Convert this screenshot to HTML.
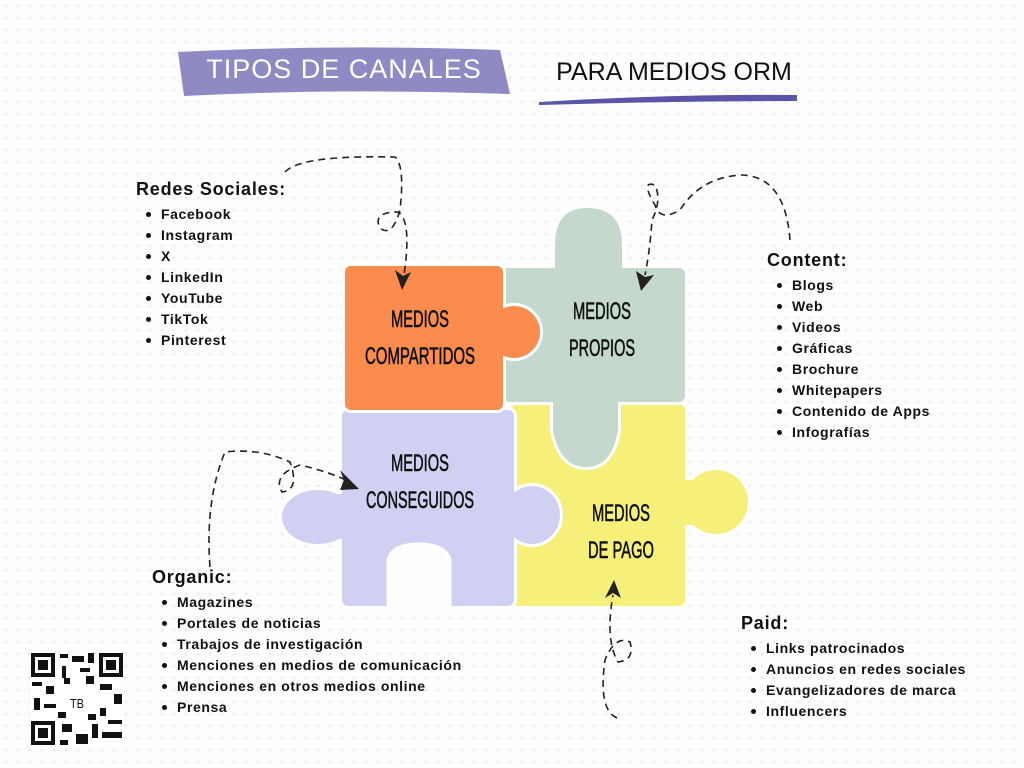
<!DOCTYPE html>
<html><head><meta charset="utf-8"><style>
body{margin:0;width:1024px;height:768px;overflow:hidden;background:#fdfdfd;background-image:radial-gradient(circle,#ececec 1.4px,transparent 1.6px);background-size:12px 12px;font-family:"Liberation Sans",sans-serif;position:relative}
.lst{position:absolute;font-weight:bold;color:#111;font-size:14px;letter-spacing:0.6px}
.lst h3{margin:0 0 4px -25px;font-size:18px;letter-spacing:0.8px}
.lst div{height:21px;line-height:21px;position:relative}
.lst div:before{content:"";position:absolute;left:-15px;top:8px;width:5px;height:5px;border-radius:50%;background:#111}
.p{font-family:"Liberation Sans",sans-serif;font-size:24px;fill:#111;stroke:#111;stroke-width:0.6}
</style></head><body>
<svg width="1024" height="768" style="position:absolute;left:0;top:0">
<defs>
<g id="Y"><rect x="512" y="404" width="173" height="202" rx="6"/><circle cx="716" cy="502" r="32"/><rect x="680" y="480" width="20" height="45"/></g>
<g id="G"><rect x="503" y="268" width="182" height="134" rx="6"/><path d="M555 270 L555 245 Q555 208 587 208 Q622 208 622 245 L622 270 Z"/><path d="M553 398 L553 430 Q560 467 586 467 Q612 467 618 430 L618 398 Z"/></g>
<g id="L"><rect x="342" y="410" width="172" height="196" rx="6"/><ellipse cx="318" cy="517" rx="36" ry="27"/><rect x="330" y="494" width="20" height="45"/><ellipse cx="532" cy="515" rx="28" ry="29"/></g>
<g id="O"><rect x="345" y="266" width="158" height="144" rx="6"/><ellipse cx="514" cy="332" rx="26" ry="26"/><rect x="495" y="312" width="12" height="42"/></g>
</defs>
<path d="M178 52 Q340 44 500 50 L510 94 Q340 88 184 96 Z" fill="#8f89c4"/>
<text x="344" y="78" text-anchor="middle" font-family="Liberation Sans" font-size="27" fill="#fff" letter-spacing="1">TIPOS DE CANALES</text>
<text x="674" y="80" text-anchor="middle" font-family="Liberation Sans" font-size="25" fill="#111">PARA MEDIOS ORM</text>
<path d="M540 103 Q670 95 796 96 L796 100 Q670 100 540 104 Z" fill="#5b55a8" stroke="#5b55a8" stroke-width="2"/>
<use href="#Y" fill="#fff" stroke="#fff" stroke-width="6"/><use href="#Y" fill="#f6ef7a"/>
<use href="#G" fill="#fff" stroke="#fff" stroke-width="6"/><use href="#G" fill="#c4d8cc"/>
<use href="#L" fill="#fff" stroke="#fff" stroke-width="6"/><use href="#L" fill="#cfd0f2"/>
<use href="#O" fill="#fff" stroke="#fff" stroke-width="6"/><use href="#O" fill="#fb8c4d"/>
<path d="M388 610 L388 560 Q392 544 418 544 Q446 544 450 560 L450 610 Z" fill="#fdfdfd" stroke="#fff" stroke-width="3"/>
<text class="p" x="391" y="327" textLength="58" lengthAdjust="spacingAndGlyphs">MEDIOS</text>
<text class="p" x="365" y="364" textLength="110" lengthAdjust="spacingAndGlyphs">COMPARTIDOS</text>
<text class="p" x="573" y="319" textLength="58" lengthAdjust="spacingAndGlyphs">MEDIOS</text>
<text class="p" x="569" y="356" textLength="66" lengthAdjust="spacingAndGlyphs">PROPIOS</text>
<text class="p" x="391" y="471" textLength="58" lengthAdjust="spacingAndGlyphs">MEDIOS</text>
<text class="p" x="366" y="508" textLength="108" lengthAdjust="spacingAndGlyphs">CONSEGUIDOS</text>
<text class="p" x="592" y="521" textLength="58" lengthAdjust="spacingAndGlyphs">MEDIOS</text>
<text class="p" x="588" y="558" textLength="66" lengthAdjust="spacingAndGlyphs">DE PAGO</text>
<g fill="none" stroke="#222" stroke-width="1.6" stroke-dasharray="7 5">
<path d="M285 172 Q300 155 395 157 Q405 165 400 210 Q392 238 380 228 Q372 212 398 212 Q412 220 404 275"/>
<path d="M790 240 Q785 175 740 175 Q700 178 680 210 Q660 222 655 205 Q640 180 655 185 Q662 200 652 220 Q650 250 645 275"/>
<path d="M210 567 Q205 500 225 452 Q260 448 290 462 Q300 490 282 492 Q272 475 300 465 Q330 472 350 482"/>
<path d="M617 718 Q598 710 605 660 Q615 635 630 642 Q635 660 618 662 Q605 640 613 595"/>
</g>
<g fill="#222">
<path d="M395 270 L403 276 L411 272 L402 290 Z"/>
<path d="M636 271 L645 277 L654 275 L641 291 Z"/>
<path d="M340 470 L344 480 L340 490 L359 489 Z"/>
<path d="M605 598 L613 593 L621 598 L614 580 Z"/>
</g>
<g fill="#111">
<rect x="30" y="652" width="94" height="94" fill="#fff"/>
<rect x="31" y="653" width="24" height="24"/><rect x="35" y="657" width="16" height="16" fill="#fff"/><rect x="38" y="660" width="10" height="10"/>
<rect x="99" y="653" width="24" height="24"/><rect x="103" y="657" width="16" height="16" fill="#fff"/><rect x="106" y="660" width="10" height="10"/>
<rect x="31" y="721" width="24" height="24"/><rect x="35" y="725" width="16" height="16" fill="#fff"/><rect x="38" y="728" width="10" height="10"/>
<rect x="60" y="654" width="8" height="4"/><rect x="72" y="656" width="12" height="6"/><rect x="88" y="653" width="6" height="10"/><rect x="62" y="666" width="4" height="12"/><rect x="80" y="668" width="10" height="4"/>
<rect x="32" y="682" width="10" height="4"/><rect x="46" y="686" width="8" height="8"/><rect x="34" y="698" width="6" height="12"/><rect x="44" y="704" width="12" height="4"/>
<rect x="100" y="684" width="12" height="6"/><rect x="114" y="694" width="8" height="10"/><rect x="100" y="708" width="6" height="8"/><rect x="108" y="720" width="14" height="4"/>
<rect x="62" y="724" width="10" height="8"/><rect x="76" y="734" width="12" height="10"/><rect x="92" y="724" width="6" height="14"/><rect x="102" y="732" width="20" height="6"/><rect x="60" y="740" width="8" height="5"/>
<rect x="64" y="678" width="6" height="6"/><rect x="86" y="676" width="8" height="8"/><rect x="58" y="712" width="8" height="6"/><rect x="88" y="714" width="8" height="6"/>
<text x="77" y="708" text-anchor="middle" font-family="Liberation Sans,sans-serif" font-size="13" textLength="14" lengthAdjust="spacingAndGlyphs">TB</text>
</g>
</svg>
<div class="lst" style="left:161px;top:179px"><h3>Redes Sociales:</h3><div>Facebook</div><div>Instagram</div><div>X</div><div>LinkedIn</div><div>YouTube</div><div>TikTok</div><div>Pinterest</div></div>
<div class="lst" style="left:792px;top:250px"><h3>Content:</h3><div>Blogs</div><div>Web</div><div>Videos</div><div>Gráficas</div><div>Brochure</div><div>Whitepapers</div><div>Contenido de Apps</div><div>Infografías</div></div>
<div class="lst" style="left:177px;top:567px"><h3>Organic:</h3><div>Magazines</div><div>Portales de noticias</div><div>Trabajos de investigación</div><div>Menciones en medios de comunicación</div><div>Menciones en otros medios online</div><div>Prensa</div></div>
<div class="lst" style="left:766px;top:613px"><h3>Paid:</h3><div>Links patrocinados</div><div>Anuncios en redes sociales</div><div>Evangelizadores de marca</div><div>Influencers</div></div>
</body></html>
